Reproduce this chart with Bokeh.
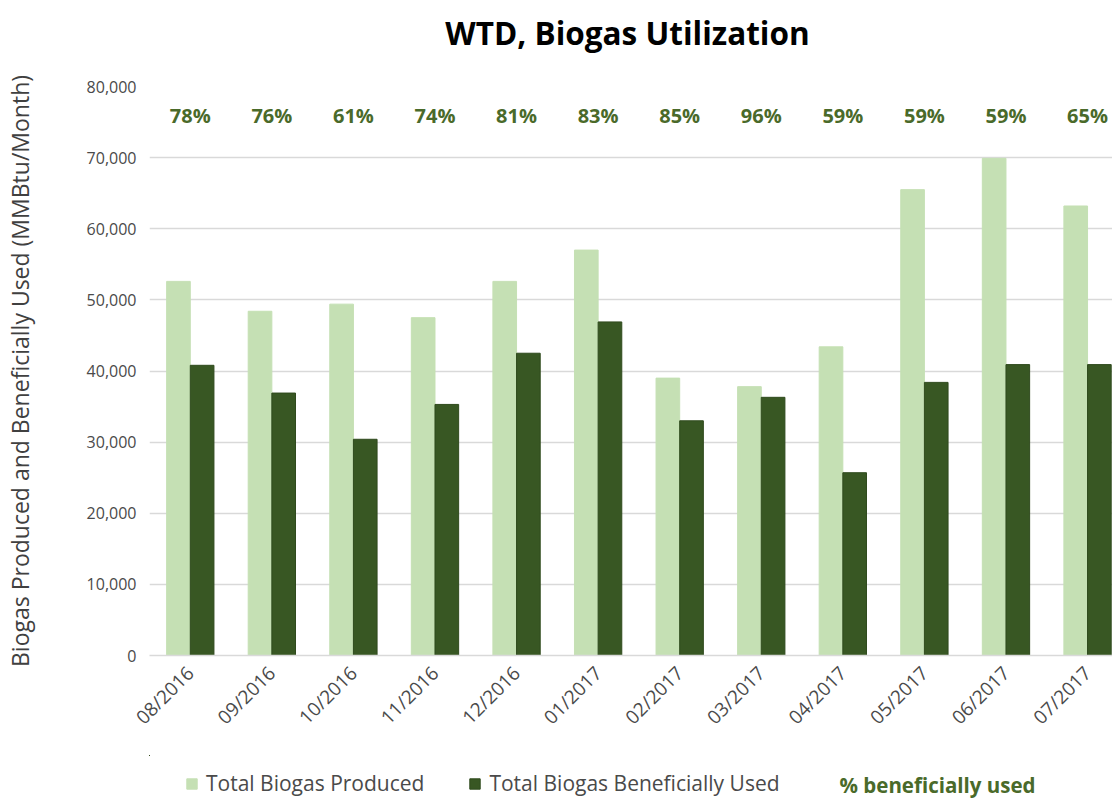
import math
from bokeh.plotting import figure
from bokeh.layouts import column
from bokeh.models import (Range1d, FixedTicker, NumeralTickFormatter, Legend, LegendItem,
                          Label, ColumnDataSource)
from bokeh.transform import dodge
from bokeh.core.properties import value
from bokeh.embed import file_html
from bokeh.resources import INLINE

months = ["08/2016", "09/2016", "10/2016", "11/2016", "12/2016", "01/2017",
          "02/2017", "03/2017", "04/2017", "05/2017", "06/2017", "07/2017"]
produced = [52600, 48400, 49400, 47500, 52600, 57000, 39000, 37800, 43400, 65500, 69900, 63200]
used = [40800, 36900, 30400, 35300, 42500, 46900, 33000, 36300, 25700, 38400, 40900, 40900]
pct_labels = ["78%", "76%", "61%", "74%", "81%", "83%", "85%", "96%", "59%", "59%", "59%", "65%"]
pct_row = [75900] * 12   # the "% beneficially used" labels sit in a row near the top

FONT = "Open Sans"
LIGHT = "#C5E0B4"
DARK = "#385723"
DARK_EDGE = "#2F4A1D"
PCT_COLOR = "#4A6A2A"
GRAY = "#4A4A4A"
W = 1112
TITLE_H, MAIN_H, LEG_H = 60, 695, 44

idx = list(range(len(months)))
src = ColumnDataSource(dict(x=idx, produced=produced, used=used, pct=pct_labels, pct_y=pct_row))


def strip(height):
    f = figure(width=W, height=height, output_backend="svg", toolbar_location=None,
               x_axis_type=None, y_axis_type=None,
               x_range=Range1d(100, 101), y_range=Range1d(-2, -1),
               min_border_left=0, min_border_right=0, min_border_top=0, min_border_bottom=0)
    f.outline_line_color = None
    f.grid.visible = False
    return f


# ---------------- title strip ----------------
tf = strip(TITLE_H)
tf.add_layout(Label(x=478, y=28, x_units="screen", y_units="screen",
                    text="WTD, Biogas Utilization", text_font=FONT, text_font_size="31.5px",
                    text_font_style="bold", text_color="#000000",
                    text_align="center", text_baseline="middle"))

# ---------------- main chart ----------------
p = figure(width=W, height=MAIN_H, output_backend="svg", toolbar_location=None,
           x_range=Range1d(-0.5, 11.306), y_range=Range1d(0, 80000),
           min_border_left=147, min_border_right=0, min_border_top=26, min_border_bottom=100)

bw = 0.29
p.vbar(x=dodge("x", -bw / 2), top="produced", width=bw, source=src,
       fill_color=LIGHT, line_color=LIGHT)
p.vbar(x=dodge("x", bw / 2), top="used", width=bw, source=src,
       fill_color=DARK, line_color=DARK_EDGE)

p.text(x="x", y="pct_y", text="pct", source=src, text_align="center", text_baseline="middle",
       text_font=value(FONT), text_font_size="20px", text_font_style="bold", text_color=PCT_COLOR)

p.outline_line_color = None
p.xgrid.grid_line_color = None
p.ygrid.grid_line_color = "#D9D9D9"
p.ygrid.grid_line_width = 1.5

p.yaxis.ticker = FixedTicker(ticks=list(range(0, 80001, 10000)))
p.yaxis.formatter = NumeralTickFormatter(format="0,0")
p.yaxis.axis_line_color = None
p.yaxis.major_tick_line_color = None
p.yaxis.minor_tick_line_color = None
p.yaxis.major_label_text_font = FONT
p.yaxis.major_label_text_font_size = "16px"
p.yaxis.major_label_text_color = GRAY
p.yaxis.major_label_standoff = 7
p.yaxis.axis_label = "Biogas Produced and Beneficially Used (MMBtu/Month)"
p.yaxis.axis_label_text_font = FONT
p.yaxis.axis_label_text_font_size = "23px"
p.yaxis.axis_label_text_font_style = "normal"
p.yaxis.axis_label_text_color = "#404040"
p.yaxis.axis_label_standoff = 48

p.xaxis.ticker = FixedTicker(ticks=idx)
p.xaxis.major_label_overrides = {i: m for i, m in zip(idx, months)}
p.xaxis.major_label_orientation = math.pi / 4
p.xaxis.axis_line_color = "#D9D9D9"
p.xaxis.axis_line_width = 1.5
p.xaxis.major_tick_line_color = None
p.xaxis.minor_tick_line_color = None
p.xaxis.major_label_text_font = FONT
p.xaxis.major_label_text_font_size = "19px"
p.xaxis.major_label_text_color = GRAY
p.xaxis.major_label_standoff = 8

# ---------------- legend strip ----------------
leg = strip(LEG_H)
s1 = leg.vbar(x="x", top="produced", width=bw, source=src, fill_color=LIGHT, line_color=LIGHT)
s2 = leg.vbar(x="x", top="used", width=bw, source=src, fill_color=DARK, line_color=DARK_EDGE)

legend = Legend(items=[LegendItem(label="Total Biogas Produced", renderers=[s1]),
                       LegendItem(label="Total Biogas Beneficially Used", renderers=[s2])],
                location=(36, 2), orientation="horizontal",
                glyph_width=13, glyph_height=13, label_standoff=8, spacing=44,
                padding=0, margin=0, border_line_color=None, background_fill_alpha=0,
                label_text_font=FONT, label_text_font_size="21px", label_text_color=GRAY)
leg.add_layout(legend, "center")
leg.add_layout(Label(x=690, y=15, x_units="screen", y_units="screen",
                     text="% beneficially used", text_font=FONT, text_font_size="20.5px",
                     text_font_style="bold", text_color=PCT_COLOR, text_baseline="middle"))

layout = column(tf, p, leg, spacing=0)
open("out.html", "w").write(file_html(layout, INLINE))
